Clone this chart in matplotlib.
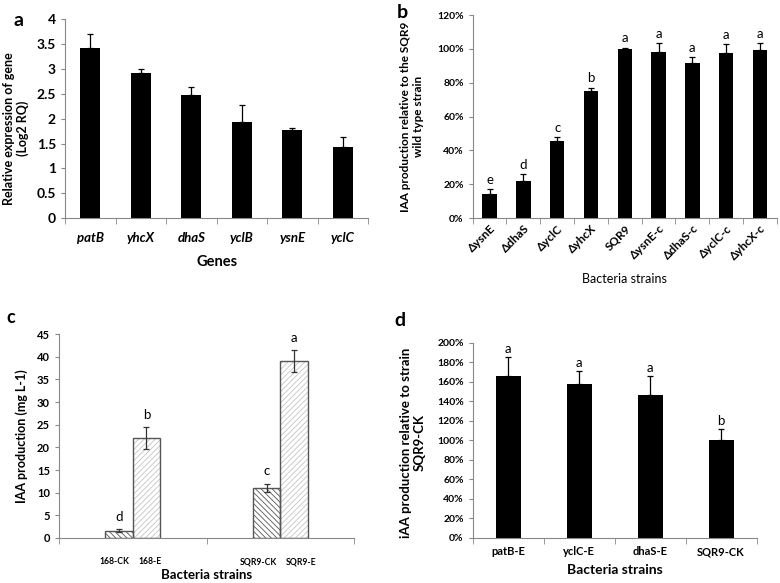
import numpy as np
import matplotlib
matplotlib.use("Agg")
import matplotlib.pyplot as plt
from matplotlib.ticker import FuncFormatter

plt.rcParams['font.family'] = ['Lato', 'DejaVu Sans']
plt.rcParams['hatch.linewidth'] = 0.6

# --- data ---
genes = ['patB', 'yhcX', 'dhaS', 'yclB', 'ysnE', 'yclC']
expr = [3.43, 2.93, 2.48, 1.93, 1.77, 1.43]
expr_err = [0.27, 0.07, 0.15, 0.35, 0.04, 0.20]

strains_b = ['ΔysnE', 'ΔdhaS', 'ΔyclC', 'ΔyhcX', 'SQR9', 'ΔysnE-c', 'ΔdhaS-c', 'ΔyclC-c', 'ΔyhcX-c']
iaa_rel = [14, 22, 45.5, 75, 100, 98, 91.5, 97.5, 99.5]
iaa_rel_err = [3, 4, 2.5, 2, 0.7, 5.5, 3.5, 5.5, 4]
letters_b = ['e', 'd', 'c', 'b', 'a', 'a', 'a', 'a', 'a']

groups_c = ['168', 'SQR9']
ck_vals = [1.6, 11.0]
ck_err = [0.3, 0.9]
e_vals = [22.0, 39.0]
e_err = [2.4, 2.4]
letters_ck = ['d', 'c']
letters_e = ['b', 'a']

strains_d = ['patB-E', 'yclC-E', 'dhaS-E', 'SQR9-CK']
iaa_d = [166, 158, 147, 100]
iaa_d_err = [20, 13, 19, 12]
letters_d = ['a', 'a', 'a', 'b']

fig = plt.figure(figsize=(7.8, 5.83), dpi=100)
spine_col = '#888888'


def style_axes(ax, n):
    for s in ['top', 'right']:
        ax.spines[s].set_visible(False)
    for s in ['left', 'bottom']:
        ax.spines[s].set_color(spine_col)
        ax.spines[s].set_linewidth(0.8)
    ax.set_xlim(-0.5, n - 0.5)
    ax.set_xticks(np.arange(n))
    ax.set_xticks(np.arange(n + 1) - 0.5, minor=True)
    ax.tick_params(axis='x', which='major', length=0)
    ax.tick_params(axis='x', which='minor', length=4, color=spine_col, direction='out')
    ax.tick_params(axis='y', length=3, color=spine_col, direction='out')


def up_err(ax, x, vals, errs, cap=2.2):
    ax.errorbar(x, vals, yerr=[np.zeros(len(vals)), errs], fmt='none',
                ecolor='black', elinewidth=0.9, capsize=cap, capthick=0.9)


# ---------- a ----------
ax = fig.add_axes([0.0833, 0.626, 0.3887, 0.3406])
x = np.arange(len(genes))
ax.bar(x, expr, width=0.4, color='black')
up_err(ax, x, expr, expr_err)
style_axes(ax, len(genes))
ax.set_ylim(0, 4)
ax.set_yticks(np.arange(0, 4.01, 0.5))
ax.yaxis.set_major_formatter(FuncFormatter(lambda v, p: f'{v:g}'))
ax.set_xticklabels(genes, fontstyle='italic', fontweight='bold', fontsize=9.5)
for t in ax.get_yticklabels():
    t.set_fontweight('bold'); t.set_fontsize(10)
ax.tick_params(axis='x', pad=10)
ax.set_ylabel('Relative expression of gene\n(Log2 RQ)', fontsize=9, fontweight='bold', linespacing=1.1)
ax.yaxis.set_label_coords(-0.12, 0.45)
ax.set_xlabel('Genes', fontsize=10.5, fontweight='bold', labelpad=8)
fig.text(0.017, 0.965, 'a', fontsize=14, fontweight='bold', va='center')

# ---------- b ----------
ax = fig.add_axes([0.606, 0.626, 0.39, 0.348])
x = np.arange(len(strains_b))
ax.bar(x, iaa_rel, width=0.43, color='black')
up_err(ax, x, iaa_rel, iaa_rel_err)
style_axes(ax, len(strains_b))
ax.set_ylim(0, 120)
ax.set_yticks(np.arange(0, 121, 20))
ax.yaxis.set_major_formatter(FuncFormatter(lambda v, p: f'{v:.0f}%'))
for t in ax.get_yticklabels():
    t.set_fontweight('bold'); t.set_fontsize(7.5)
ax.set_xticklabels(strains_b, rotation=45, ha='right', rotation_mode='anchor', fontsize=8.5, fontweight='bold')
for xi, v, e, l in zip(x, iaa_rel, iaa_rel_err, letters_b):
    ax.text(xi, v + e + 2, l, ha='center', va='bottom', fontsize=9.5)
ax.set_ylabel('IAA production relative to the SQR9\nwild type strain', fontsize=8.5, fontweight='bold')
ax.yaxis.set_label_coords(-0.16, 0.5)
ax.set_xlabel('Bacteria strains', fontsize=9, labelpad=8)
fig.text(0.509, 0.978, 'b', fontsize=14, fontweight='bold', va='center')

# ---------- c ----------
ax = fig.add_axes([0.0756, 0.0772, 0.3784, 0.3498])
g = np.arange(len(groups_c))
bw = 0.185
xc = g - bw / 2
xe = g + bw / 2
ax.bar(xc, ck_vals, width=bw, color='white', edgecolor='#555555', hatch='\\\\\\\\\\\\', linewidth=0)
ax.bar(xe, e_vals, width=bw, color='white', edgecolor='#c4c4c4', hatch='//////', linewidth=0)
ax.bar(xc, ck_vals, width=bw, fill=False, edgecolor='#555555', linewidth=1.0)
ax.bar(xe, e_vals, width=bw, fill=False, edgecolor='#555555', linewidth=1.0)
ax.errorbar(np.r_[xc, xe], ck_vals + e_vals, yerr=ck_err + e_err, fmt='none',
            ecolor='#333333', elinewidth=0.9, capsize=2.0, capthick=0.9)
for xi, v, e, l in zip(np.r_[xc, xe], ck_vals + e_vals, ck_err + e_err, letters_ck + letters_e):
    ax.text(xi, v + e + 1.5, l, ha='center', va='bottom', fontsize=9.5)
style_axes(ax, len(groups_c))
ax.set_xticklabels([])
ax.set_ylim(0, 45)
ax.set_yticks(np.arange(0, 46, 5))
for t in ax.get_yticklabels():
    t.set_fontweight('bold'); t.set_fontsize(8)
for xi, grp in zip(g, groups_c):
    ax.text(xi - 0.02, -4.2, f'{grp}-CK', ha='right', va='top', fontsize=6.2, fontweight='bold')
    ax.text(xi + 0.04, -4.2, f'{grp}-E', ha='left', va='top', fontsize=6.2, fontweight='bold')
ax.set_ylabel('IAA production (mg L-1)', fontsize=9, fontweight='bold')
ax.yaxis.set_label_coords(-0.105, 0.5)
ax.set_xlabel('Bacteria strains', fontsize=9.5, fontweight='bold')
ax.xaxis.set_label_coords(0.5, -0.15)
fig.text(0.008, 0.455, 'c', fontsize=13, fontweight='bold', va='center')

# ---------- d ----------
ax = fig.add_axes([0.606, 0.0772, 0.364, 0.3345])
x = np.arange(len(strains_d))
ax.bar(x, iaa_d, width=0.35, color='black')
up_err(ax, x, iaa_d, iaa_d_err)
for xi, v, e, l in zip(x, iaa_d, iaa_d_err, letters_d):
    ax.text(xi, v + e + 2, l, ha='center', va='bottom', fontsize=9.5)
style_axes(ax, len(strains_d))
ax.set_ylim(0, 200)
ax.set_yticks(np.arange(0, 201, 20))
ax.yaxis.set_major_formatter(FuncFormatter(lambda v, p: f'{v:.0f}%'))
for t in ax.get_yticklabels():
    t.set_fontweight('bold'); t.set_fontsize(7.5)
ax.set_xticklabels(strains_d, fontsize=8, fontweight='bold')
ax.tick_params(axis='x', pad=6)
ax.set_ylabel('iAA production relative to strain\nSQR9-CK', fontsize=9.5, fontweight='bold')
ax.yaxis.set_label_coords(-0.165, 0.49)
ax.set_xlabel('Bacteria strains', fontsize=10, fontweight='bold', labelpad=5)
fig.text(0.506, 0.45, 'd', fontsize=14, fontweight='bold', va='center')

fig.savefig('out.png', dpi=100)
